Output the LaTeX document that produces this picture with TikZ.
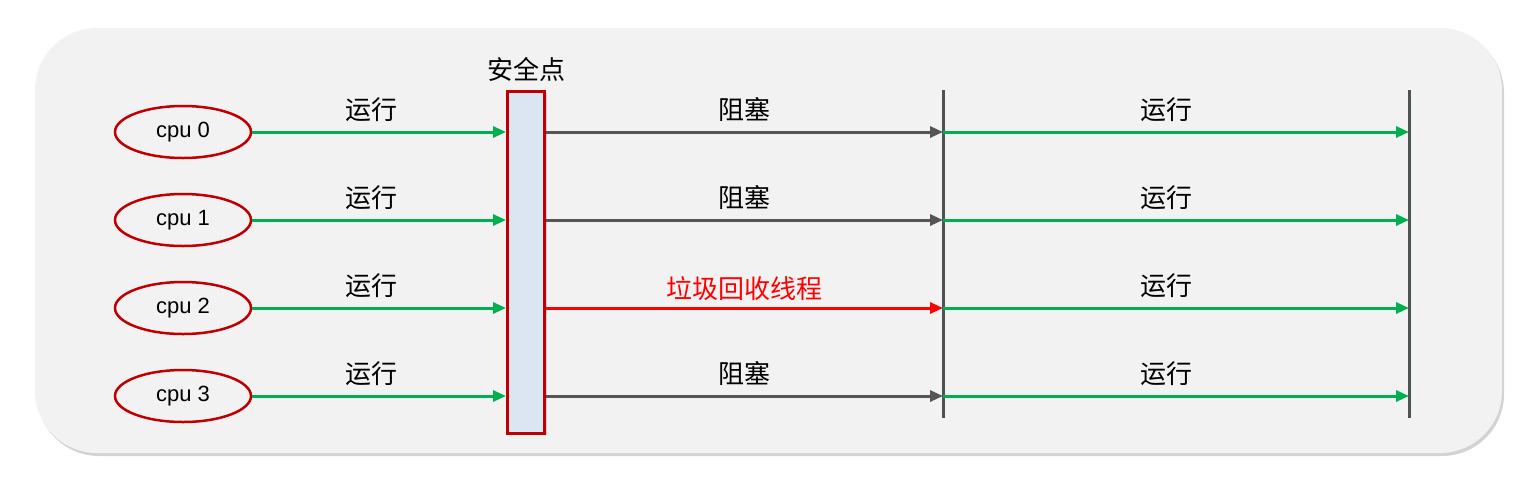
\documentclass[tikz,border=0pt]{standalone}
\usepackage{fontspec}
\setmainfont{Liberation Sans}
\newfontfamily\cjk{Noto Sans CJK SC}
\usepackage{tikz}
\usetikzlibrary{arrows.meta,calc,positioning,shadows,shapes.geometric}
\definecolor{runcol}{RGB}{0,176,80}
\definecolor{darkred}{RGB}{192,0,0}
\definecolor{blockcol}{RGB}{85,85,85}
\definecolor{barcol}{RGB}{77,82,84}
\definecolor{safefill}{RGB}{220,230,242}
\definecolor{panelcol}{RGB}{242,242,242}
\tikzstyle{cpu}=[ellipse,draw=darkred,line width=2.5pt,minimum width=136pt,minimum height=52pt,inner sep=0pt,font=\fontsize{22}{26}\selectfont]
\tikzstyle{safe}=[rectangle,draw=darkred,fill=safefill,line width=3pt,minimum width=37pt,minimum height=342pt,inner sep=0pt]
\tikzstyle{run}=[-{Triangle[length=13pt,width=11pt]},runcol,line width=3pt]
\tikzstyle{block}=[-{Triangle[length=13pt,width=11pt]},blockcol,line width=3pt]
\tikzstyle{gc}=[-{Triangle[length=13pt,width=11pt]},red,line width=3pt]
\tikzstyle{bar}=[barcol,line width=3pt]
\tikzstyle{lbl}=[above=7pt,inner sep=2pt,text=black,font=\cjk\fontsize{26}{30}\selectfont]

\begin{document}
\begin{tikzpicture}[x=1pt,y=-1pt]
            \useasboundingbox (0,0) rectangle (1538,480);
            % panel
            \fill[panelcol,rounded corners=62pt,drop shadow={shadow xshift=2pt,shadow yshift=-3pt,opacity=0.35}] (35,28) rectangle (1502,453);
            \node[cpu] (cpu0) at (183,132) {cpu 0};
            \node[cpu] (cpu1) at (183,220) {cpu 1};
            \node[cpu] (cpu2) at (183,308) {cpu 2};
            \node[cpu] (cpu3) at (183,396) {cpu 3};
            \node[safe,drop shadow={shadow xshift=2pt,shadow yshift=-2pt,opacity=0.3}] (safe) at (526,262) {};
            \node[lbl,above=6pt of safe] (safelbl) {安全点};
            \coordinate (blktop) at (943,90);
            \coordinate (blkbot) at (943,418);
            \coordinate (endtop) at (1409,90);
            \coordinate (endbot) at (1409,418);
            \draw[bar] (blktop) -- (blkbot);
            \draw[bar] (endtop) -- (endbot);
            % row 0
            \draw[run] (cpu0.east) -- (cpu0 -| safe.west) node[pos=0.47,lbl] {运行};
            \draw[block] (cpu0 -| safe.east) -- (cpu0 -| blktop) node[midway,lbl] {阻塞};
            \draw[run] (cpu0 -| blktop) -- (cpu0 -| endtop) node[pos=0.48,lbl] {运行};
            % row 1
            \draw[run] (cpu1.east) -- (cpu1 -| safe.west) node[pos=0.47,lbl] {运行};
            \draw[block] (cpu1 -| safe.east) -- (cpu1 -| blktop) node[midway,lbl] {阻塞};
            \draw[run] (cpu1 -| blktop) -- (cpu1 -| endtop) node[pos=0.48,lbl] {运行};
            % row 2
            \draw[run] (cpu2.east) -- (cpu2 -| safe.west) node[pos=0.47,lbl] {运行};
            \draw[gc] (cpu2 -| safe.east) -- (cpu2 -| blktop) node[midway,lbl,above=4pt,text=red] {垃圾回收线程};
            \draw[run] (cpu2 -| blktop) -- (cpu2 -| endtop) node[pos=0.48,lbl] {运行};
            % row 3
            \draw[run] (cpu3.east) -- (cpu3 -| safe.west) node[pos=0.47,lbl] {运行};
            \draw[block] (cpu3 -| safe.east) -- (cpu3 -| blktop) node[midway,lbl] {阻塞};
            \draw[run] (cpu3 -| blktop) -- (cpu3 -| endtop) node[pos=0.48,lbl] {运行};
        \end{tikzpicture}
\end{document}
